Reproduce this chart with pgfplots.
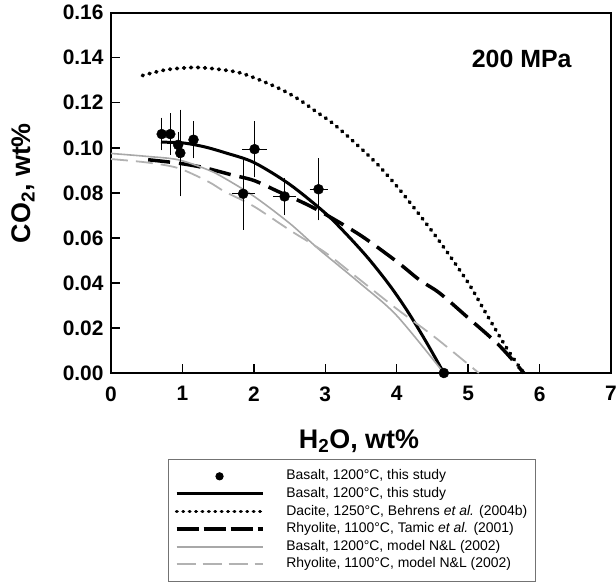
\documentclass[border=0pt]{standalone}
\usepackage{pgfplots}
\pgfplotsset{compat=1.18}
\usepackage{fontspec}
\setmainfont{Liberation Sans}
\definecolor{lgray}{gray}{0.66}
\definecolor{dgray}{gray}{0.70}
\pgfplotstableread{
x y ex ey
0.71 0.1061 0 0.0055
0.83 0.1061 0 0.0074
0.94 0.1013 0 0.004
0.97 0.0977 0 0.0175
1.155 0.1036 0 0.0065
1.85 0.0796 0.105 0.0142
2.01 0.0994 0.116 0.0107
2.43 0.0784 0.105 0.0065
2.905 0.0816 0.07 0.012
4.66 0.0 0.093 0
}\pts
\begin{document}
\begin{tikzpicture}
\begin{axis}[
 name=ax,
 scale only axis, width=500bp, height=360.3bp,
 xmin=0, xmax=7, ymin=0, ymax=0.16,
 clip=false,
 axis line style={line width=1.8bp},
 tick pos=left, tick align=inside,
 major tick length=9bp,
 tick style={line width=1.4bp, black},
 xtick={0,1,2,3,4,5,6,7},
 xticklabels={0,1,2,3,4,5,6,7},
 ytick={0,0.02,0.04,0.06,0.08,0.10,0.12,0.14,0.16},
 yticklabels={0.00,0.02,0.04,0.06,0.08,0.10,0.12,0.14,0.16},
 ticklabel style={font=\fontsize{21}{21}\selectfont\bfseries},
 xticklabel style={yshift=-10bp},
 yticklabel style={xshift=-4bp},
 /pgf/number format/assume math mode=true,
 xlabel={H\textsubscript{2}O, wt\%},
 ylabel={CO\textsubscript{2}, wt\%},
 label style={font=\fontsize{27}{27}\selectfont\bfseries},
 xlabel style={at={(axis description cs:0.496,-0.189)}, anchor=center},
 ylabel style={at={(axis description cs:-0.176,0.527)}, anchor=center},
 legend image code/.code={\draw[#1] (0bp,0bp) -- (86bp,0bp);},
 legend style={at={(axis description cs:0.1146,-0.2387)}, anchor=north west,
   draw=black!55, line width=1bp, fill=white,
   font=\fontsize{14}{16}\selectfont,
   inner xsep=6bp, inner ysep=8bp, row sep=0bp,
   nodes={inner ysep=2.2bp, text height=10.2bp, text depth=3bp},
   /tikz/every odd column/.append style={column sep=20bp}},
 legend cell align=left,
]
% curves
\addplot[black, line width=3bp, smooth, forget plot] coordinates {
(0.70,0.1025) (1.0,0.1022) (1.3,0.1005) (1.6,0.0978) (2.0,0.0935) (2.5,0.0838)
(3.0,0.0710) (3.3,0.0615) (3.6,0.0510) (3.9,0.0390) (4.15,0.0275) (4.4,0.0145) (4.66,0)};
\addplot[black, line width=3.8bp, line cap=round, dash pattern=on 0.8bp off 6.2bp, smooth, forget plot] coordinates {
(0.44,0.1321) (0.78,0.1347) (1.2,0.1357) (1.62,0.1344) (1.85,0.1329) (2.13,0.1295)
(2.41,0.1255) (2.64,0.1213) (2.87,0.1161) (3.10,0.111) (3.43,0.1018) (3.75,0.092)
(4.08,0.0799) (4.55,0.0606) (4.99,0.0406) (5.25,0.0265) (5.57,0.0095) (5.78,0)};
\addplot[black, line width=3.5bp, dash pattern=on 22bp off 9bp, smooth, forget plot] coordinates {
(0.52,0.0947) (0.94,0.0932) (1.3,0.0912) (1.69,0.088) (2.0,0.0855) (2.34,0.0806)
(2.7,0.0755) (3.0,0.0705) (3.5,0.061) (4.0,0.0495) (4.32,0.0413) (4.6,0.0355)
(5.0,0.0245) (5.43,0.0124) (5.78,0)};
\addplot[lgray, line width=1.6bp, smooth, forget plot] coordinates {
(0,0.0975) (0.5,0.0962) (0.94,0.0947) (1.36,0.0902) (1.59,0.0865) (2.0,0.0785)
(2.5,0.0665) (2.92,0.0547) (3.48,0.040) (4.0,0.0255) (4.66,0)};
\addplot[dgray, line width=1.8bp, dash pattern=on 17bp off 8bp, smooth, forget plot] coordinates {
(0,0.095) (0.5,0.0935) (0.94,0.091) (1.36,0.085) (1.59,0.0806) (2.0,0.074)
(2.5,0.0635) (3.0,0.0535) (3.43,0.0428) (4.0,0.0285) (4.53,0.016) (5.15,0)};
% points
\addplot[only marks, mark=*, mark size=5bp, black, forget plot,
  error bars/.cd, x dir=both, x explicit, y dir=both, y explicit,
  error bar style={line width=1bp, black},
  error mark options={mark size=4bp, line width=1bp, black}]
  table[x=x, y=y, x error=ex, y error=ey] {\pts};
\node[font=\fontsize{25}{25}\selectfont\bfseries] at (axis cs:5.75,0.1396) {200 MPa};
% legend
\addlegendimage{legend image code/.code={\draw[black, mark=*, mark size=3.6bp] plot coordinates {(43bp,0bp)};}}
\addlegendentry{Basalt, 1200°C, this study}
\addlegendimage{black, line width=3bp}
\addlegendentry{Basalt, 1200°C, this study}
\addlegendimage{black, line width=3.4bp, line cap=round, dash pattern=on 0.6bp off 5.8bp}
\addlegendentry{Dacite, 1250°C, Behrens \textit{et al.} (2004b)}
\addlegendimage{black, line width=3.5bp, dash pattern=on 22bp off 5bp}
\addlegendentry{Rhyolite, 1100°C, Tamic \textit{et al.} (2001)}
\addlegendimage{lgray, line width=1.6bp}
\addlegendentry{Basalt, 1200°C, model N\&L (2002)}
\addlegendimage{dgray, line width=1.8bp, dash pattern=on 19bp off 7bp}
\addlegendentry{Rhyolite, 1100°C, model N\&L (2002)}
\end{axis}
\pgfresetboundingbox
\path[use as bounding box] ([xshift=-111bp,yshift=-208bp]ax.south west) rectangle ([xshift=5bp,yshift=12.7bp]ax.north east);
\end{tikzpicture}
\end{document}
